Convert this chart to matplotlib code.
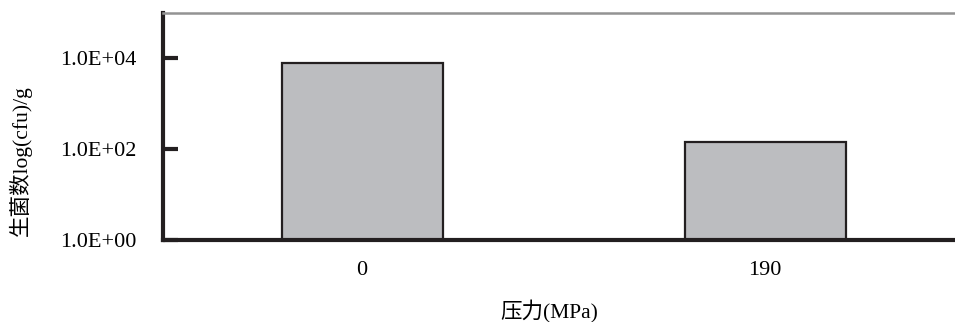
import matplotlib
matplotlib.use('Agg')
import matplotlib.pyplot as plt

pressure_labels = ["0", "190"]
bacteria_counts = [8.1e3, 1.43e2]
y_ticks = [1e0, 1e2, 1e4]
y_tick_labels = ["1.0E+00", "1.0E+02", "1.0E+04"]

plt.rcParams['font.family'] = ['Liberation Serif', 'Noto Sans CJK SC']


def main():
    fig = plt.figure(figsize=(9.55, 3.22), dpi=100)
    ax = fig.add_axes([0.1707, 0.2547, 0.8293, 0.7049])

    x = range(len(pressure_labels))
    ax.bar(x, bacteria_counts, width=0.4, color="#bcbdc0",
           edgecolor="#231f20", linewidth=1.6, zorder=2)

    ax.set_yscale('log')
    ax.set_ylim(1, 1e5)
    ax.set_xlim(-0.494, 1.471)
    ax.set_yticks(y_ticks)
    ax.set_yticklabels(y_tick_labels)
    ax.minorticks_off()
    ax.set_xticks(list(x))
    ax.set_xticklabels(pressure_labels)

    ax.tick_params(axis='y', direction='in', length=11, width=3,
                   color="#231f20", pad=19, labelsize=16)
    ax.tick_params(axis='x', length=0, pad=15, labelsize=16)

    for side in ['left', 'bottom']:
        ax.spines[side].set_linewidth(3)
        ax.spines[side].set_color("#231f20")
    ax.spines['right'].set_visible(False)
    ax.spines['top'].set_color("#939393")
    ax.spines['top'].set_linewidth(1.8)

    fig.text(0.021, 0.5, "生菌数log(cfu)/g", rotation=90,
             ha='center', va='center', fontsize=15.5)
    fig.text(0.575, 0.031, "压力(MPa)", ha='center', va='center', fontsize=15.5)

    plt.savefig('out.png', dpi=100)


if __name__ == "__main__":
    main()
